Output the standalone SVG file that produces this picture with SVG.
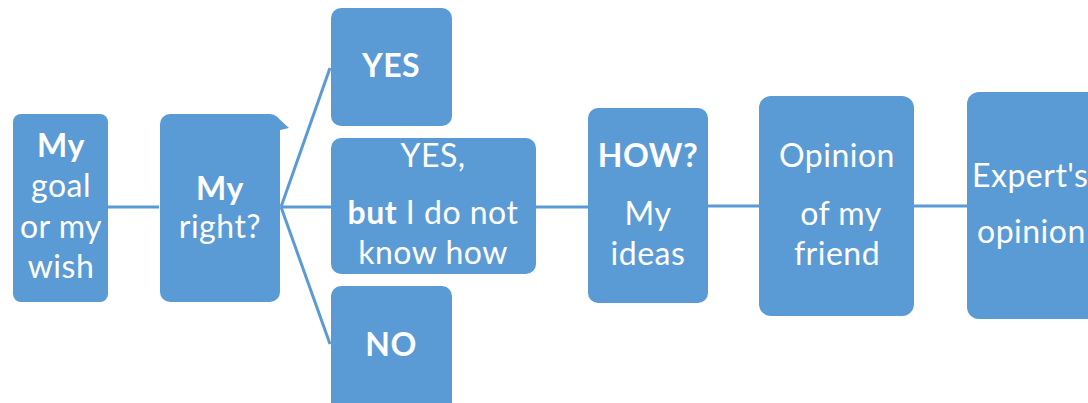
<svg xmlns="http://www.w3.org/2000/svg" width="1088" height="403" viewBox="0 0 1088 403">
  <style>
    .box { fill: #5B9BD5; }
    .t { font-family: Lato, "Open Sans", sans-serif; font-size: 32px; letter-spacing: 0.5px; fill: #FFFFFF; text-anchor: middle; }
    .s { text-anchor: start; }
    .b { font-weight: bold; }
    .link { stroke: #5B9BD5; stroke-width: 3; fill: none; }
  </style>
  <rect width="1088" height="403" fill="#FFFFFF"/>

  <!-- connectors -->
  <g id="connectors">
    <line class="link" x1="108" y1="207" x2="159" y2="207"/>
    <line class="link" x1="281" y1="207" x2="330" y2="68"/>
    <line class="link" x1="281" y1="207" x2="331" y2="207"/>
    <line class="link" x1="281" y1="207" x2="330" y2="344"/>
    <line class="link" x1="536" y1="207" x2="588" y2="207"/>
    <line class="link" x1="708" y1="206" x2="759" y2="206"/>
    <line class="link" x1="914" y1="206" x2="967" y2="206"/>
  </g>

  <g id="goal">
    <rect class="box" x="13" y="114" width="95" height="188" rx="8"/>
    <text class="t b" x="61" y="157">My</text>
    <text class="t" x="61" y="197">goal</text>
    <text class="t" x="61" y="238">or my</text>
    <text class="t" x="61" y="278">wish</text>
  </g>

  <g id="right">
    <rect class="box" x="160" y="114" width="120" height="188" rx="10"/>
    <polygon class="box" points="276,116 289,128 276,131"/>
    <text class="t b" x="220" y="200">My</text>
    <text class="t" x="220" y="238">right?</text>
  </g>

  <g id="yes">
    <rect class="box" x="331" y="8" width="121" height="118" rx="10"/>
    <text class="t b" x="391" y="77">YES</text>
  </g>

  <g id="yes-but">
    <rect class="box" x="331" y="138" width="205" height="136" rx="10"/>
    <text class="t" x="433" y="167">YES,</text>
    <text class="t" x="433" y="224"><tspan class="b">but</tspan> I do not</text>
    <text class="t" x="433" y="264">know how</text>
  </g>

  <g id="no">
    <rect class="box" x="331" y="286" width="121" height="130" rx="10"/>
    <text class="t b" x="391" y="356">NO</text>
  </g>

  <g id="how">
    <rect class="box" x="588" y="108" width="120" height="195" rx="10"/>
    <text class="t b" x="648" y="167">HOW?</text>
    <text class="t" x="648" y="225">My</text>
    <text class="t" x="648" y="265">ideas</text>
  </g>

  <g id="friend">
    <rect class="box" x="759" y="96" width="155" height="220" rx="12"/>
    <text class="t" x="837" y="167">Opinion</text>
    <text class="t" x="841" y="225">of my</text>
    <text class="t" x="837" y="265">friend</text>
  </g>

  <g id="expert">
    <rect class="box" x="967" y="92" width="140" height="227" rx="12"/>
    <text class="t s" x="972" y="187">Expert's</text>
    <text class="t s" x="977" y="243">opinion</text>
  </g>
</svg>
